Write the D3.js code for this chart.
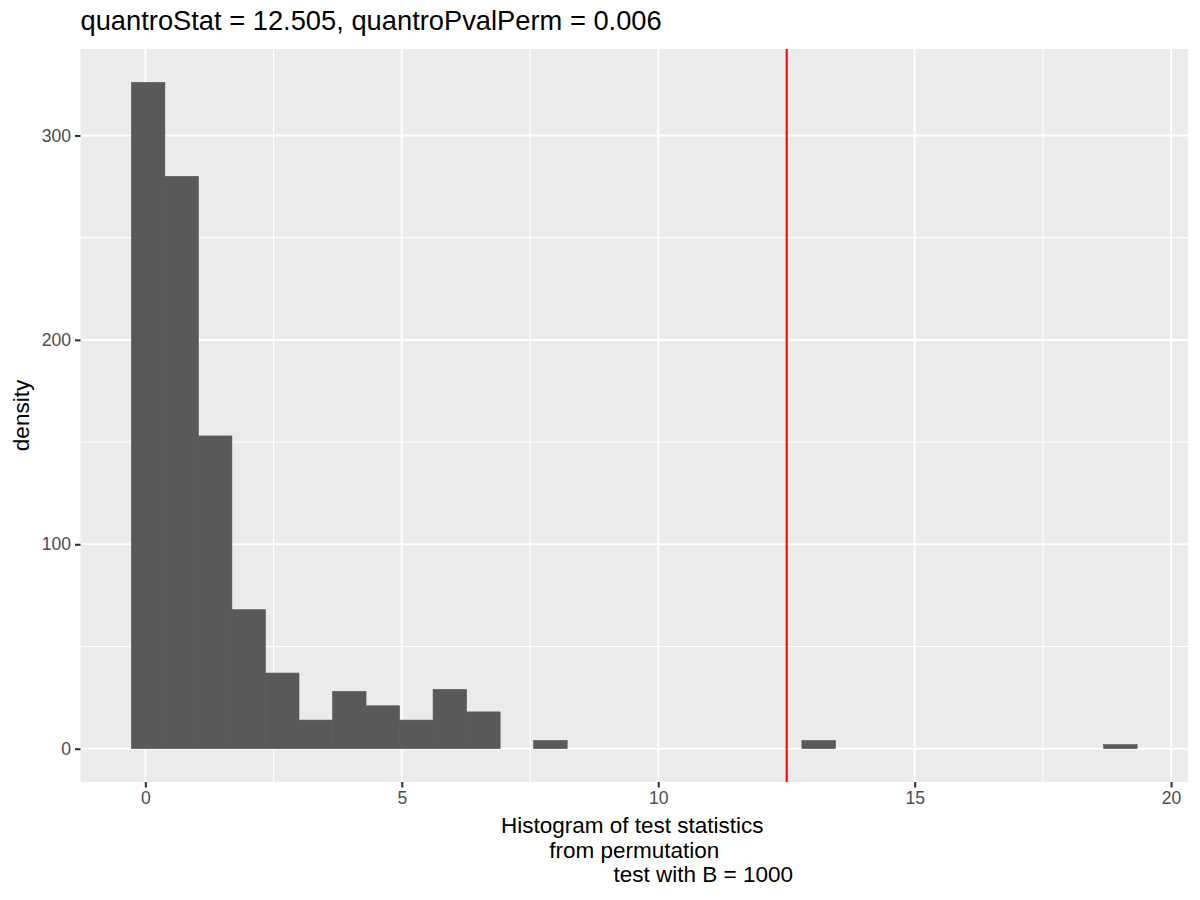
<!DOCTYPE html>
<html>
<head>
<meta charset="utf-8">
<script src="https://cdn.jsdelivr.net/npm/d3@7"></script>
<style>
  html, body { margin: 0; padding: 0; background: #fff; }
  svg { display: block; font-family: "Liberation Sans", Arial, sans-serif; }
</style>
</head>
<body>
<svg id="chart" width="1200" height="900"></svg>
<script>
// ---- data ----
const binLo  = [-0.273, 0.381, 1.034, 1.688, 2.342, 2.996, 3.649, 4.303, 4.957, 5.610, 6.264, 7.571, 12.801, 18.684];
const binHi  = [ 0.381, 1.034, 1.688, 2.342, 2.996, 3.649, 4.303, 4.957, 5.610, 6.264, 6.918, 8.225, 13.455, 19.338];
const counts = [326, 280, 153, 68, 37, 14, 28, 21, 14, 29, 18, 4, 4, 2];
const observedStat = 12.505;
const xTicks = [0, 5, 10, 15, 20];
const xMinor = [2.5, 7.5, 12.5, 17.5];
const yTicks = [0, 100, 200, 300];
const yMinor = [50, 150, 250];
const titleText = "quantroStat = 12.505, quantroPvalPerm = 0.006";
const xTitleLines = ["Histogram of test statistics", "from permutation", "test with B = 1000"];
const yTitle = "density";

// ---- layout ----
const svg = d3.select("#chart");
const panel = { left: 80.5, right: 1188, top: 49, bottom: 782 };

const x = d3.scaleLinear().domain([-1.2645, 20.3295]).range([panel.left, panel.right]);
const yMax = d3.max(counts);
const y = d3.scaleLinear().domain([-yMax * 0.05, yMax * 1.05]).range([panel.bottom, panel.top]);

// panel background
svg.append("rect")
  .attr("x", panel.left).attr("y", panel.top)
  .attr("width", panel.right - panel.left).attr("height", panel.bottom - panel.top)
  .attr("fill", "#EBEBEB");

const grid = svg.append("g");
// minor grid
grid.selectAll(".vminor").data(xMinor).join("line")
  .attr("x1", d => x(d)).attr("x2", d => x(d))
  .attr("y1", panel.top).attr("y2", panel.bottom)
  .attr("stroke", "#fff").attr("stroke-width", 1.1);
grid.selectAll(".hminor").data(yMinor).join("line")
  .attr("y1", d => y(d)).attr("y2", d => y(d))
  .attr("x1", panel.left).attr("x2", panel.right)
  .attr("stroke", "#fff").attr("stroke-width", 1.1);
// major grid
grid.selectAll(".vmajor").data(xTicks).join("line")
  .attr("x1", d => x(d)).attr("x2", d => x(d))
  .attr("y1", panel.top).attr("y2", panel.bottom)
  .attr("stroke", "#fff").attr("stroke-width", 2.1);
grid.selectAll(".hmajor").data(yTicks).join("line")
  .attr("y1", d => y(d)).attr("y2", d => y(d))
  .attr("x1", panel.left).attr("x2", panel.right)
  .attr("stroke", "#fff").attr("stroke-width", 2.1);

// bars
const bins = counts.map((c, i) => ({ lo: binLo[i], hi: binHi[i], c }));
svg.append("g").selectAll("rect").data(bins).join("rect")
  .attr("x", d => x(d.lo))
  .attr("width", d => x(d.hi) - x(d.lo))
  .attr("y", d => y(d.c))
  .attr("height", d => y(0) - y(d.c))
  .attr("fill", "#595959")
  .attr("stroke", "#595959")
  .attr("stroke-width", 0.6);

// observed statistic line
svg.append("line")
  .attr("x1", x(observedStat)).attr("x2", x(observedStat))
  .attr("y1", panel.top).attr("y2", panel.bottom)
  .attr("stroke", "#FF0000").attr("stroke-width", 2.1);

// axes
const xAxis = svg.append("g")
  .attr("transform", `translate(0,${panel.bottom})`)
  .call(d3.axisBottom(x).tickValues(xTicks).tickSize(5.5).tickPadding(4).tickFormat(d3.format("d")));
const yAxis = svg.append("g")
  .attr("transform", `translate(${panel.left},0)`)
  .call(d3.axisLeft(y).tickValues(yTicks).tickSize(5.5).tickPadding(4).tickFormat(d3.format("d")));
[xAxis, yAxis].forEach(a => {
  a.select(".domain").remove();
  a.selectAll(".tick line").attr("stroke", "#333333").attr("stroke-width", 2.1);
  a.selectAll(".tick text").attr("fill", "#4D4D4D").style("font-size", "17.6px")
    .style("font-family", '"Liberation Sans", Arial, sans-serif');
});

// title
svg.append("text")
  .attr("x", panel.left).attr("y", 30)
  .attr("fill", "#000")
  .style("font-size", "27.3px")
  .text(titleText);

// x-axis title (three lines)
const xCenter = (panel.left + panel.right) / 2;
const lineOffsets = [-2, 0, 69];
svg.append("g").selectAll("text").data(xTitleLines).join("text")
  .attr("x", (d, i) => xCenter + lineOffsets[i])
  .attr("y", (d, i) => 833 + i * 24.5)
  .attr("text-anchor", "middle")
  .attr("fill", "#000")
  .style("font-size", "22.5px")
  .text(d => d);

// y-axis title
svg.append("text")
  .attr("transform", `translate(29,${(panel.top + panel.bottom) / 2}) rotate(-90)`)
  .attr("text-anchor", "middle")
  .attr("fill", "#000")
  .style("font-size", "22.5px")
  .text(yTitle);
</script>
</body>
</html>
